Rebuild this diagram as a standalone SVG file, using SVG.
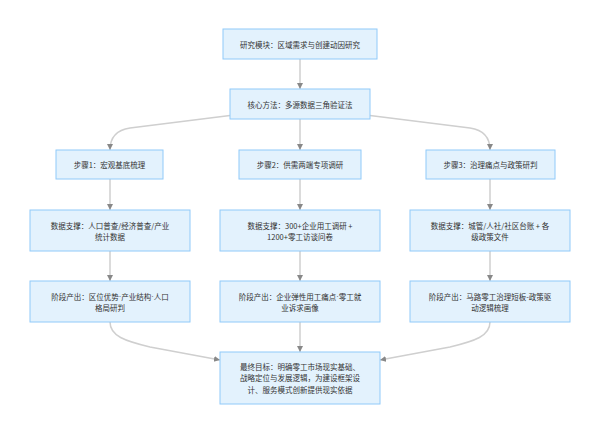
<svg xmlns="http://www.w3.org/2000/svg" width="600" height="434" viewBox="0 0 600 434">
<defs>
<style>
.box{fill:#e3f2fd;stroke:#90caf9;stroke-width:1}
.t{font-family:"Noto Sans CJK SC","Noto Sans",sans-serif;font-size:7.5px;fill:#333;text-anchor:middle;dominant-baseline:central}
.d{font-family:"Liberation Sans",sans-serif}
.e{fill:none;stroke:#cfcfcf;stroke-width:1.5}
</style>
<marker id="ah" markerUnits="userSpaceOnUse" markerWidth="7" markerHeight="7" refX="6" refY="3" orient="auto">
<path d="M0,0 L6,3 L0,6 z" fill="#888"/>
</marker>
</defs>
<rect width="600" height="434" fill="#fff"/>
<g id="connectors">
<path class="e" d="M300,59 L300,89" marker-end="url(#ah)"/>
<path class="e" d="M230,115.5 L130,128 Q110,131 110,150" marker-end="url(#ah)"/>
<path class="e" d="M300,119 L300,150" marker-end="url(#ah)"/>
<path class="e" d="M370,115.5 L470,128 Q490,131 490,150" marker-end="url(#ah)"/>
<path class="e" d="M110,179 L110,210" marker-end="url(#ah)"/>
<path class="e" d="M300,179 L300,210" marker-end="url(#ah)"/>
<path class="e" d="M490,179 L490,210" marker-end="url(#ah)"/>
<path class="e" d="M110,251 L110,281" marker-end="url(#ah)"/>
<path class="e" d="M300,251 L300,281" marker-end="url(#ah)"/>
<path class="e" d="M490,251 L490,281" marker-end="url(#ah)"/>
<path class="e" d="M110,322 C110,336 125,341 150,347 L220,360" marker-end="url(#ah)"/>
<path class="e" d="M300,322 L300,352" marker-end="url(#ah)"/>
<path class="e" d="M490,322 C490,336 475,341 450,347 L380,360" marker-end="url(#ah)"/>
</g>
<g id="n0"><rect class="box" x="223" y="29" width="154" height="30"/><text class="t" x="300" y="44">研究模块：区域需求与创建动因研究</text></g>
<g id="n1"><rect class="box" x="230" y="89" width="140" height="30"/><text class="t" x="300" y="104">核心方法：多源数据三角验证法</text></g>
<g id="s1"><rect class="box" x="56" y="150" width="107" height="29"/><text class="t" x="109.5" y="164.5">步骤1：宏观基底梳理</text></g>
<g id="s2"><rect class="box" x="239" y="150" width="122" height="29"/><text class="t" x="300" y="164.5">步骤2：供需两端专项调研</text></g>
<g id="s3"><rect class="box" x="426" y="150" width="129" height="29"/><text class="t" x="490.5" y="164.5">步骤3：治理痛点与政策研判</text></g>
<g id="d1"><rect class="box" x="30" y="210" width="160" height="41"/><text class="t" x="110" y="225">数据支撑：人口普查/经济普查/产业</text><text class="t" x="110" y="236">统计数据</text></g>
<g id="d2"><rect class="box" x="220" y="210" width="160" height="41"/><text class="t" x="300" y="225">数据支撑：300+企业用工调研 +</text><text class="t" x="300" y="236">1200+零工访谈问卷</text></g>
<g id="d3"><rect class="box" x="410" y="210" width="160" height="41"/><text class="t" x="490" y="225">数据支撑：城管/人社/社区台账 + 各</text><text class="t" x="490" y="236">级政策文件</text></g>
<g id="o1"><rect class="box" x="30" y="281" width="160" height="41"/><text class="t" x="110" y="296">阶段产出：区位优势<tspan class="d">·</tspan>产业结构<tspan class="d">·</tspan>人口</text><text class="t" x="110" y="307">格局研判</text></g>
<g id="o2"><rect class="box" x="220" y="281" width="160" height="41"/><text class="t" x="300" y="296">阶段产出：企业弹性用工痛点<tspan class="d">·</tspan>零工就</text><text class="t" x="300" y="307">业诉求画像</text></g>
<g id="o3"><rect class="box" x="410" y="281" width="160" height="41"/><text class="t" x="490" y="296">阶段产出：马路零工治理短板-政策驱</text><text class="t" x="490" y="307">动逻辑梳理</text></g>
<g id="final"><rect class="box" x="220" y="352" width="160" height="52"/><text class="t" x="300" y="366.5">最终目标：明确零工市场现实基础、</text><text class="t" x="300" y="377.8">战略定位与发展逻辑，为建设框架设</text><text class="t" x="300" y="389">计、服务模式创新提供现实依据</text></g>
</svg>
